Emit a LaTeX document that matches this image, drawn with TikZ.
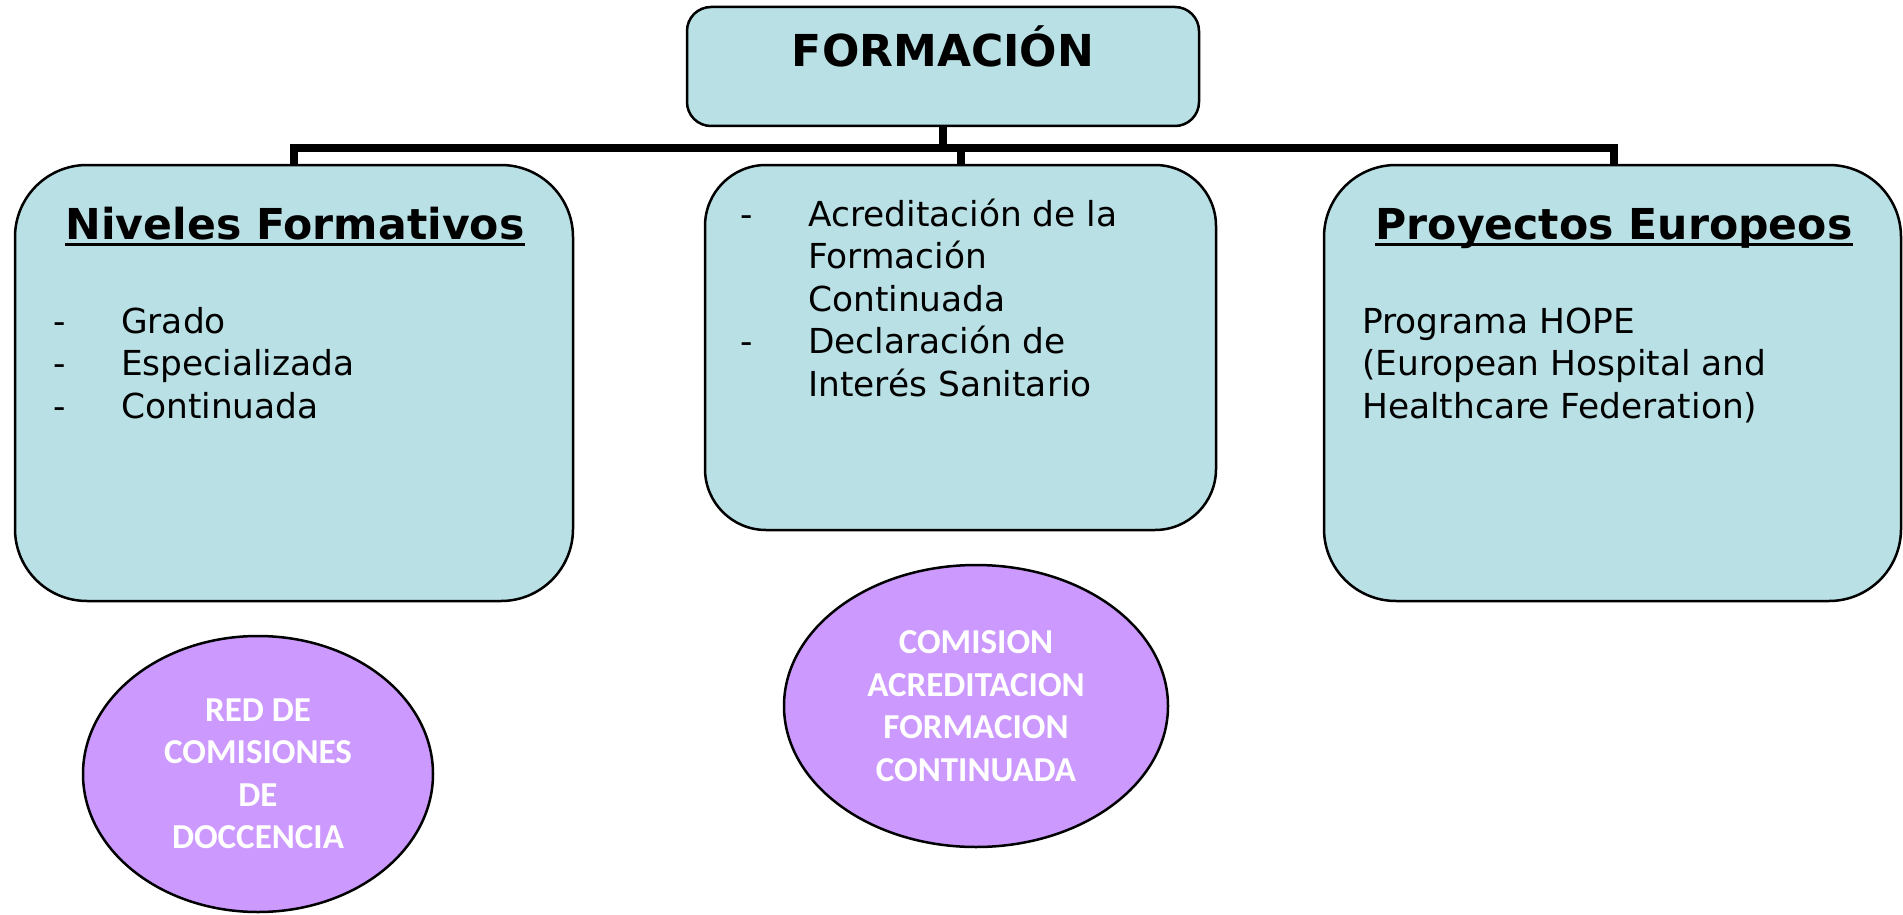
\documentclass[tikz,border=0pt]{standalone}
\usepackage{fontspec}
\setmainfont{DejaVu Sans}
\newfontfamily\calfont{Carlito}
\usetikzlibrary{shapes.geometric}
\definecolor{boxblue}{RGB}{185,224,228}
\definecolor{ellpurple}{RGB}{204,153,255}
\tikzset{
  box/.style={draw=black, line width=2.5pt, fill=boxblue, inner sep=0pt},
  ell/.style={ellipse, draw=black, line width=2.5pt, fill=ellpurple, inner sep=0pt,
    text=white, align=center, font=\calfont\bfseries\fontsize{35}{42.5}\selectfont},
  conn/.style={line width=8pt},
  head/.style={inner sep=0pt, anchor=base, font=\bfseries\fontsize{42.6}{50}\selectfont},
  body/.style={inner sep=0pt, anchor=base west, align=left, font=\fontsize{34.4}{42.5}\selectfont},
}
\newcommand{\dashitem}[1]{\makebox[68pt][l]{-}#1}
\begin{document}
\begin{tikzpicture}[x=1pt,y=-1pt]
\useasboundingbox (0,0) rectangle (1903,915);
% boxes
\node[box, rounded corners=24pt, minimum width=512pt, minimum height=119pt] (top) at (943,66.5) {};
\node[box, rounded corners=72pt, minimum width=558pt, minimum height=436pt] (left) at (294,383) {};
\node[box, rounded corners=61pt, minimum width=511pt, minimum height=365pt] (mid) at (960.5,347.5) {};
\node[box, rounded corners=72pt, minimum width=577pt, minimum height=436pt] (right) at (1612.5,383) {};
% connectors
\coordinate (bus) at (943,148);
\coordinate (busL) at (294,148);
\coordinate (busM) at (961,148);
\coordinate (busR) at (1614,148);
\draw[conn] (top.south) -- (bus);
\draw[conn] ([xshift=-4pt]busL) -- ([xshift=4pt]busR);
\draw[conn] (busL) -- (busL |- left.north);
\draw[conn] (busM) -- (busM |- mid.north);
\draw[conn] (busR) -- (busR |- right.north);
% top text
\node[head, font=\bfseries\fontsize{44}{50}\selectfont] (ttop) at (943,67) {FORMACIÓN};
% left box text
\node[head] (hleft) at (295,239) {Niveles Formativos};
\draw[line width=3pt] ([yshift=-5pt]hleft.base west) -- ([yshift=-5pt]hleft.base east);
\node[body] (tleft) at (53,418) {\dashitem{Grado}\\\dashitem{Especializada}\\\dashitem{Continuada}};
% middle box text
\node[body] (tmid) at (740,396) {\dashitem{Acreditación de la}\\\hspace*{68pt}Formación\\\hspace*{68pt}Continuada\\\dashitem{Declaración de}\\\hspace*{68pt}Interés Sanitario};
% right box text
\node[head] (hright) at (1614,239) {Proyectos Europeos};
\draw[line width=3pt] ([yshift=-5pt]hright.base west) -- ([yshift=-5pt]hright.base east);
\node[body] (tright) at (1362,418) {Programa HOPE\\(European Hospital and\\Healthcare Federation)};
% ellipses
\node[ell, minimum width=350pt, minimum height=276pt] (e1) at (258,774) {RED DE\\COMISIONES\\DE\\DOCCENCIA};
\node[ell, minimum width=384pt, minimum height=282pt] (e2) at (976,706) {COMISION\\ACREDITACION\\FORMACION\\CONTINUADA};
\end{tikzpicture}
\end{document}
